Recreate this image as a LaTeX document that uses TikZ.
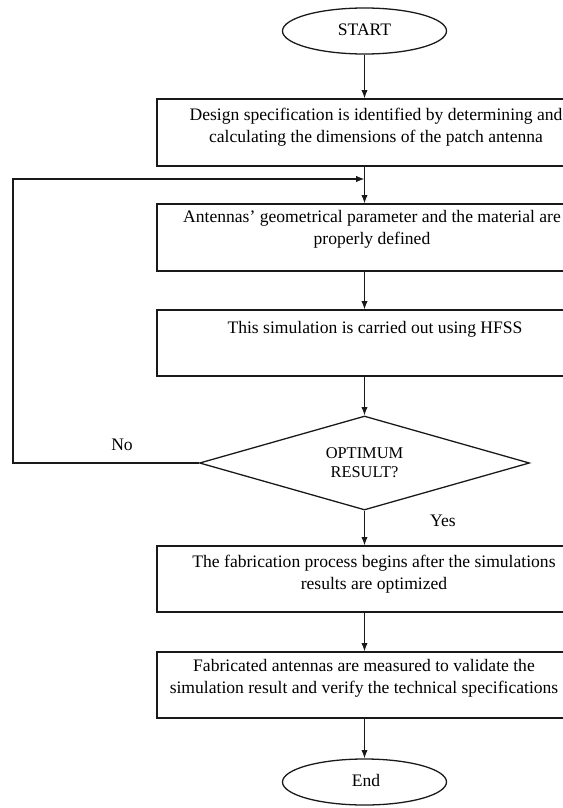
\documentclass[tikz,border=0pt]{standalone}
\usepackage{fontspec}
\setmainfont{Liberation Serif}
\usetikzlibrary{shapes.geometric,arrows.meta}
\begin{document}
\begin{tikzpicture}[x=0.03cm,y=-0.03cm,
  line/.style={draw=black!90,line width=1.1pt},
  arr/.style={line,-{Latex[length=2.5mm,width=1.9mm]}},
  boxnode/.style={draw=black!90,line width=1.1pt,rectangle,inner sep=0pt,minimum width=12.99cm},
  txt/.style={font=\fontsize{15}{18.8}\selectfont,align=center,inner sep=0pt},
  dtxt/.style={font=\fontsize{14}{16.5}\selectfont,align=center,inner sep=0pt},
  term/.style={draw=black!90,line width=1.1pt,ellipse,inner sep=0pt,minimum width=4.92cm,minimum height=1.38cm},
  decision/.style={draw=black!90,line width=1.1pt,diamond,inner sep=0pt,minimum width=9.9cm,minimum height=2.82cm}
  ]
\useasboundingbox (0,0) rectangle (563,808);
\clip (0,0) rectangle (563,808);
\fill[white] (0,0) rectangle (563,808);

% terminals
\node[term] (start) at (364.5,31) {};
\node[txt] (starttxt) at (364.5,30) {START};
\node[term] (end) at (364.5,782) {};
\node[txt] (endtxt) at (366,780) {End};

% process boxes
\node[boxnode,minimum height=2.01cm] (b1) at (373.5,132.5) {};
\node[txt] (t1) at (376,127.5) {Design specification is identified by determining and\\calculating the dimensions of the patch antenna};

\node[boxnode,minimum height=2.01cm] (b2) at (373.5,237.5) {};
\node[txt] (t2) at (372,229) {Antennas’ geometrical parameter and the material are\\properly defined};

\node[boxnode,minimum height=1.98cm] (b3) at (373.5,343) {};
\node[txt] (t3) at (375,329) {This simulation is carried out using HFSS};

\node[decision] (dia) at (364.5,463) {};
\node[dtxt] (dt) at (364.5,463) {OPTIMUM\\RESULT?};

\node[boxnode,minimum height=1.98cm] (b4) at (373.5,579) {};
\node[txt] (t4) at (374,574) {The fabrication process begins after the simulations\\results are optimized};

\node[boxnode,minimum height=1.98cm] (b5) at (373.5,685) {};
\node[txt] (t5) at (364,678) {Fabricated antennas are measured to validate the\\simulation result and verify the technical specifications};

% labels
\node[txt] (no) at (122,445) {No};
\node[txt] (yes) at (443,521) {Yes};

% connectors
\coordinate (fbl) at (13,463);
\coordinate (fbt) at (13,179);
\draw[arr] (start.south) -- (start.south |- b1.north);
\draw[arr] (start.south |- b1.south) -- (start.south |- b2.north);
\draw[arr] (start.south |- b2.south) -- (start.south |- b3.north);
\draw[arr] (start.south |- b3.south) -- (dia.north);
\draw[arr] (dia.south) -- (dia.south |- b4.north);
\draw[arr] (dia.south |- b4.south) -- (dia.south |- b5.north);
\draw[arr] (dia.south |- b5.south) -- (end.north);
\draw[arr] (dia.west) -- (fbl) -- (fbt) -- (start.south |- fbt);
\end{tikzpicture}
\end{document}
